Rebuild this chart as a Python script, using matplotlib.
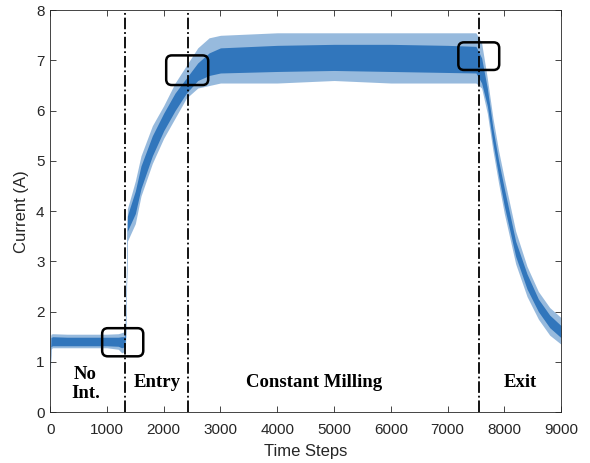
import matplotlib
matplotlib.use("Agg")
import matplotlib.pyplot as plt
from matplotlib.patches import FancyBboxPatch

# envelope of the noisy current trace
t_steps = [0, 15, 40, 300, 700, 1000, 1200, 1260, 1310, 1330, 1360, 1400, 1500, 1600,
           1800, 2000, 2200, 2400, 2600, 2800, 3000, 4000, 5000, 6000, 7000, 7500,
           7600, 7700, 7800, 7900, 8000, 8200, 8400, 8600, 8800, 9000]
core_lo = [0.75, 1.30, 1.32, 1.32, 1.32, 1.32, 1.31, 1.28, 1.30, 1.50, 3.60, 3.70, 3.95, 4.45,
           5.10, 5.60, 6.00, 6.35, 6.60, 6.70, 6.75, 6.78, 6.80, 6.78, 6.76, 6.75,
           6.55, 6.10, 5.35, 4.70, 4.10, 3.10, 2.45, 2.00, 1.68, 1.48]
core_hi = [0.90, 1.48, 1.50, 1.49, 1.49, 1.49, 1.49, 1.50, 1.50, 1.70, 3.90, 4.05, 4.40, 4.90,
           5.50, 5.95, 6.35, 6.65, 6.95, 7.15, 7.25, 7.30, 7.32, 7.32, 7.30, 7.28,
           7.05, 6.45, 5.65, 5.00, 4.45, 3.40, 2.75, 2.25, 1.93, 1.72]
spike_lo = [0.60, 1.25, 1.28, 1.28, 1.28, 1.28, 1.25, 1.18, 1.20, 1.40, 3.40, 3.50, 3.75, 4.30,
            4.95, 5.45, 5.85, 6.25, 6.45, 6.50, 6.55, 6.55, 6.60, 6.55, 6.55, 6.55,
            6.45, 5.95, 5.20, 4.55, 3.95, 2.95, 2.30, 1.85, 1.53, 1.35]
spike_hi = [1.45, 1.55, 1.56, 1.55, 1.55, 1.55, 1.56, 1.58, 1.60, 2.00, 4.05, 4.20, 4.60, 5.10,
            5.70, 6.10, 6.55, 6.90, 7.25, 7.45, 7.50, 7.55, 7.55, 7.55, 7.55, 7.55,
            7.35, 6.65, 5.85, 5.20, 4.65, 3.60, 2.90, 2.40, 2.08, 1.88]

phase_bounds = [1320, 2430, 7560]
phase_names = ["No\nInt.", "Entry", "Constant Milling", "Exit"]
phase_x = [620, 1885, 4650, 8275]
phase_y = [0.55, 0.58, 0.58, 0.58]

# zoomed-in transition boxes: (x0, y0, x1, y1)
boxes = [(916, 1.11, 1640, 1.67), (2044, 6.51, 2784, 7.10), (7190, 6.81, 7910, 7.36)]

BLUE = "#3176bc"

fig = plt.figure(figsize=(5.9, 4.63), dpi=100)
ax = fig.add_axes([0.085, 0.110, 0.866, 0.868])

ax.fill_between(t_steps, spike_lo, spike_hi, color=BLUE, alpha=0.5, lw=0)
ax.fill_between(t_steps, core_lo, core_hi, color=BLUE, lw=0)

for xb in phase_bounds:
    ax.axvline(xb, color="black", ls="-.", lw=1.3)

# x units per pixel / y units per pixel, so the corners come out round
aspect = (8 / 402) / (9000 / 510)
for (x0, y0, x1, y1) in boxes:
    ax.add_patch(FancyBboxPatch((x0, y0), x1 - x0, y1 - y0,
                                boxstyle="round,pad=0,rounding_size=100",
                                mutation_aspect=aspect, fill=False,
                                ec="black", lw=1.8, zorder=5))

for name, xt, yt in zip(phase_names, phase_x, phase_y):
    ax.text(xt, yt, name, ha="center", va="center", fontsize=13.5,
            fontweight="bold", family="Liberation Serif", linespacing=1.15)

ax.set_xlim(0, 9000)
ax.set_ylim(0, 8)
ax.set_xticks(range(0, 9001, 1000))
ax.set_yticks(range(0, 9))
ax.tick_params(direction="in", top=True, right=True, length=4, width=0.6,
               colors="#262626", labelsize=11, pad=4)
ax.tick_params(axis="x", pad=8)
for lbl in ax.get_xticklabels() + ax.get_yticklabels():
    lbl.set_family("Liberation Sans")
for sp in ax.spines.values():
    sp.set_color("#262626")
    sp.set_linewidth(0.6)
ax.set_xlabel("Time Steps", fontsize=12, family="Liberation Sans", color="#262626", labelpad=5)
ax.set_ylabel("Current (A)", fontsize=12, family="Liberation Sans", color="#262626", labelpad=5)

fig.savefig("out.png", dpi=100)
